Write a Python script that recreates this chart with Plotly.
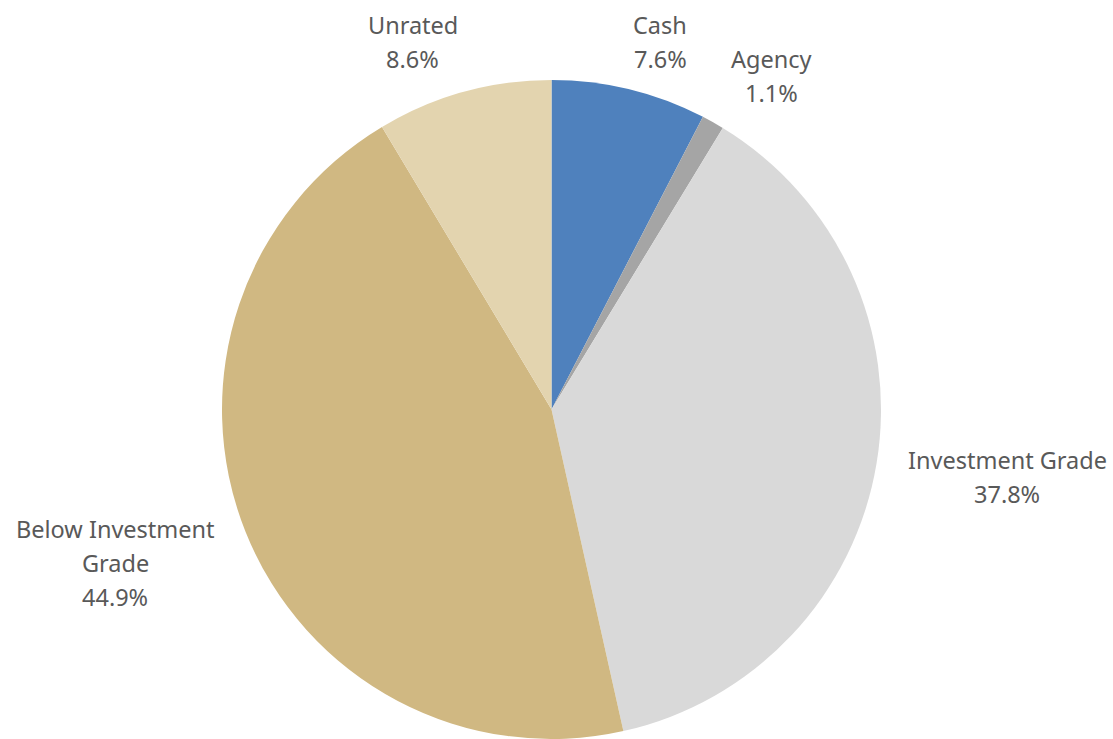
import plotly.graph_objects as go

# Portfolio allocation by credit quality
categories = ["Cash", "Agency", "Investment Grade", "Below Investment Grade", "Unrated"]
values = [7.6, 1.1, 37.8, 44.9, 8.6]
colors = ["#4F81BD", "#A5A5A5", "#D9D9D9", "#D0B882", "#E3D4AF"]

# label text lines and their centre positions (pixels, from top-left)
label_lines = [["Cash"], ["Agency"], ["Investment Grade"], ["Below Investment", "Grade"], ["Unrated"]]
label_pos = [(660, 42), (771, 76), (1007, 477), (115, 563), (413, 42)]

W, H = 1113, 739
LINE = 34

fig = go.Figure(go.Pie(
    labels=categories,
    values=values,
    marker=dict(colors=colors, line=dict(width=0)),
    sort=False,
    direction="clockwise",
    rotation=0,
    textinfo="none",
    hoverinfo="label+percent",
    domain=dict(x=[221 / W, 882 / W], y=[0, 1 - 80 / H]),
    showlegend=False,
))

annotations = []
for lines, v, (cx, cy) in zip(label_lines, values, label_pos):
    rows = lines + [f"{v:.1f}%"]
    n = len(rows)
    for i, row in enumerate(rows):
        y = cy + (i - (n - 1) / 2) * LINE
        annotations.append(dict(
            x=cx / W, y=1 - y / H, xref="paper", yref="paper",
            text=row, showarrow=False, xanchor="center", yanchor="middle",
            font=dict(family="Noto Sans", size=23.5, color="#595959"),
        ))

fig.update_layout(
    width=W, height=H,
    margin=dict(l=0, r=0, t=0, b=0),
    paper_bgcolor="white",
    plot_bgcolor="white",
    annotations=annotations,
)

fig.write_html("out.html")
